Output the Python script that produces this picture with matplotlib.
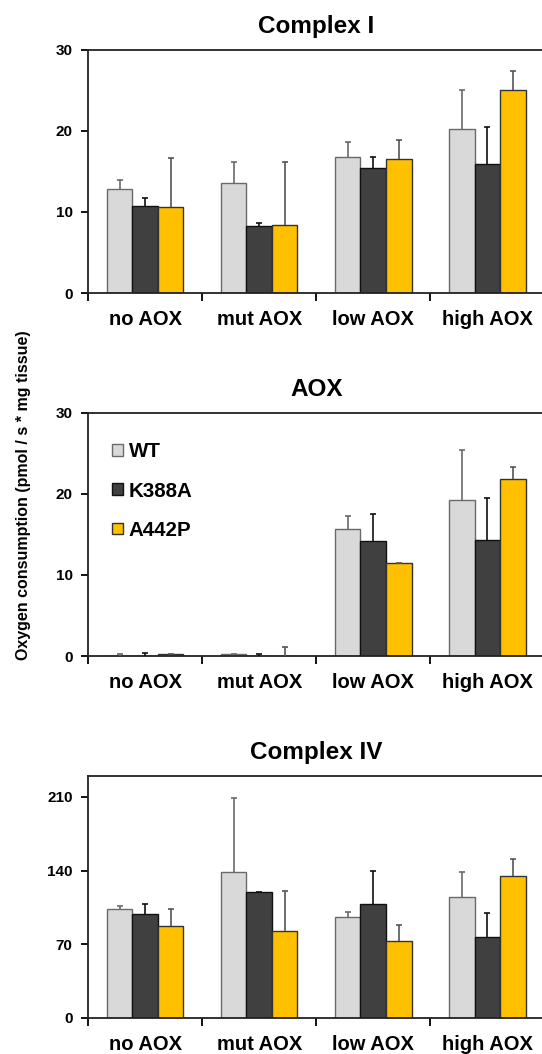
import numpy as np
import matplotlib.pyplot as plt
from matplotlib.patches import Patch

plt.rcParams['font.family'] = ['Liberation Sans', 'DejaVu Sans']
plt.rcParams['font.weight'] = 'bold'

groups = ["no AOX", "mut AOX", "low AOX", "high AOX"]
strains = ["WT", "K388A", "A442P"]

# Complex I
c1_wt = [12.8, 13.6, 16.8, 20.3]
c1_k388a = [10.7, 8.3, 15.4, 15.9]
c1_a442p = [10.6, 8.4, 16.6, 25.0]
c1_wt_err = [1.1, 2.6, 1.9, 4.8]
c1_k388a_err = [1.0, 0.35, 1.35, 4.6]
c1_a442p_err = [6.1, 7.8, 2.3, 2.4]

# AOX
aox_wt = [0.05, 0.2, 15.7, 19.2]
aox_k388a = [0.05, 0.05, 14.2, 14.3]
aox_a442p = [0.25, 0.0, 11.5, 21.9]
aox_wt_err = [0.2, 0.05, 1.6, 6.2]
aox_k388a_err = [0.35, 0.2, 3.3, 5.2]
aox_a442p_err = [0.05, 1.15, 0.0, 1.4]

# Complex IV
c4_wt = [104, 139, 96, 115]
c4_k388a = [98.5, 120, 108, 77]
c4_a442p = [87, 83, 73.5, 134.5]
c4_wt_err = [2, 70, 5, 24]
c4_k388a_err = [10, 0, 32, 23]
c4_a442p_err = [17, 38, 15, 17]

panels = [
    ("Complex I", [c1_wt, c1_k388a, c1_a442p], [c1_wt_err, c1_k388a_err, c1_a442p_err], 30, [0, 10, 20, 30]),
    ("AOX", [aox_wt, aox_k388a, aox_a442p], [aox_wt_err, aox_k388a_err, aox_a442p_err], 30, [0, 10, 20, 30]),
    ("Complex IV", [c4_wt, c4_k388a, c4_a442p], [c4_wt_err, c4_k388a_err, c4_a442p_err], 230, [0, 70, 140, 210]),
]

fills = ["#d9d9d9", "#404040", "#ffc000"]
edges = ["#6a6a6a", "#111111", "#333333"]
err_colors = ["#6a6a6a", "#111111", "#555555"]

fig = plt.figure(figsize=(5.42, 10.54), dpi=100)
boxes = [(0.1624, 0.722, 0.842, 0.2306),
         (0.1624, 0.3776, 0.842, 0.2306),
         (0.1624, 0.0342, 0.842, 0.2296)]

bw = 0.224
x = np.arange(len(groups)) + 0.5

for (title, vals, errs, ymax, yticks), box in zip(panels, boxes):
    ax = fig.add_axes(box)
    for k in range(3):
        pos = x + (k - 1) * bw
        ax.bar(pos, vals[k], width=bw, color=fills[k], edgecolor=edges[k],
               linewidth=1.0, zorder=2, label=strains[k])
        eb = ax.errorbar(pos, vals[k], yerr=[np.zeros(4), errs[k]], fmt='none',
                         ecolor=err_colors[k], elinewidth=1.2, capsize=2,
                         capthick=1.2, zorder=3)
        # only keep the upper cap
        for cap in eb[1]:
            if np.allclose(cap.get_ydata(), vals[k]):
                cap.set_visible(False)
    ax.set_xlim(0, 4)
    ax.set_ylim(0, ymax)
    ax.set_yticks(yticks)
    ax.set_yticklabels([str(t) for t in yticks], fontsize=11, fontweight='bold')
    ax.set_xticks([0, 1, 2, 3, 4])
    ax.set_xticklabels([])
    ax.set_xticks(x, minor=True)
    ax.set_xticklabels(groups, minor=True, fontsize=14.5, fontweight='bold')
    ax.tick_params(axis='x', which='minor', length=0, pad=12)
    ax.tick_params(axis='x', which='major', length=6, width=1.3, direction='out')
    ax.tick_params(axis='y', length=5, width=1.3, direction='out', pad=6)
    for s in ax.spines.values():
        s.set_linewidth(1.3)
        s.set_color('#222222')
    ax.set_title(title, fontsize=17.5, fontweight='bold', pad=12)
    if title == "AOX":
        handles = [Patch(facecolor=fills[k], edgecolor=edges[k], linewidth=1.0)
                   for k in range(3)]
        ax.legend(handles, strains, loc='upper left', bbox_to_anchor=(0.013, 0.955),
                  frameon=False, handlelength=0.5, handleheight=0.5,
                  handletextpad=0.3, labelspacing=0.98,
                  prop={'weight': 'bold', 'size': 14.8})

fig.text(0.044, 0.530, "Oxygen consumption (pmol / s * mg tissue)",
         rotation=90, ha='center', va='center', fontsize=11.5, fontweight='bold')

fig.savefig("out.png", dpi=100, facecolor="white")
